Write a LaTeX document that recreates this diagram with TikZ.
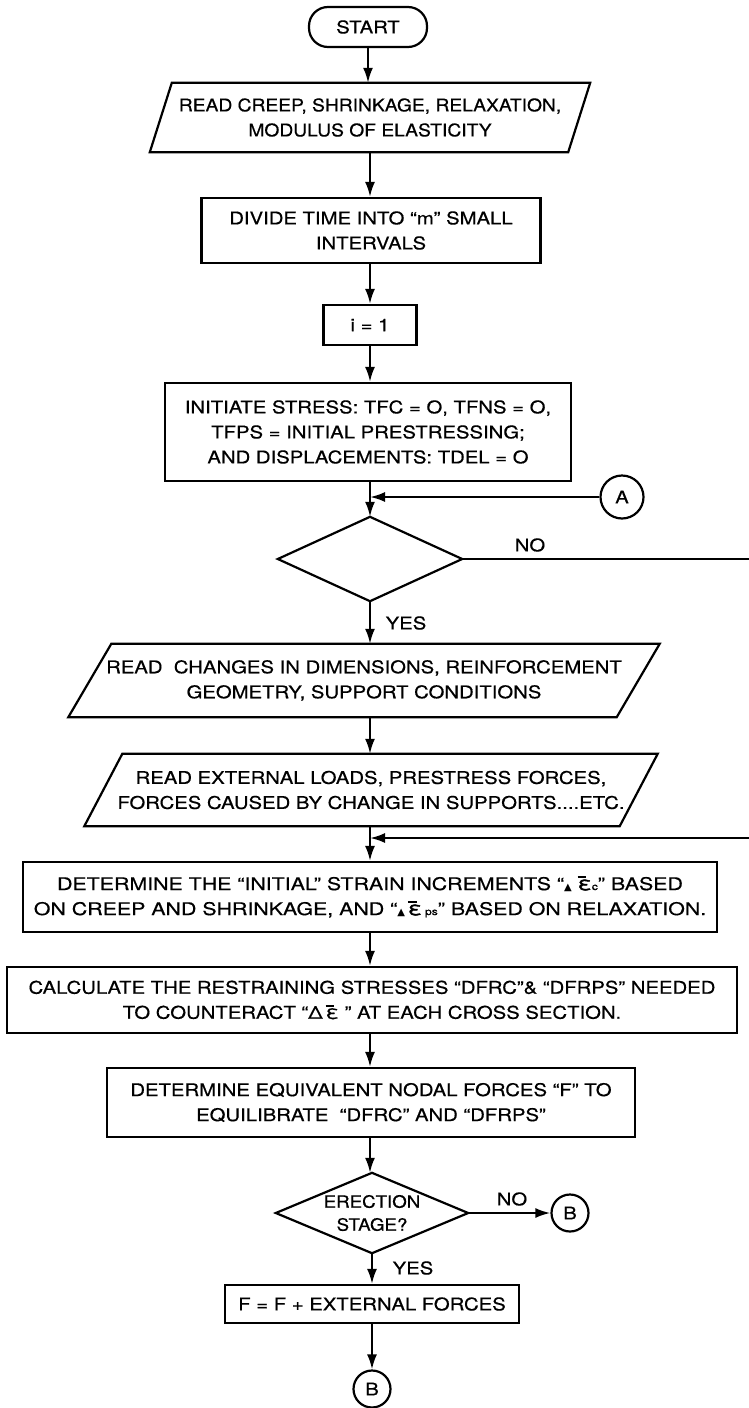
\documentclass[tikz,border=0pt]{standalone}
\usepackage{fontspec}
\setmainfont{TeX Gyre Heros}[FakeStretch=1.16,FakeBold=0.5]
\newfontfamily\narrowfont{TeX Gyre Heros}[FakeStretch=1.1,FakeBold=0.5]
\newfontfamily\widefont{TeX Gyre Heros}[FakeStretch=1.22,FakeBold=0.5]
\newfontfamily\symfont{DejaVu Sans}
\usetikzlibrary{arrows.meta,calc}
\newcommand{\epsbar}{\leavevmode\vbox{\hrule height 1.3pt width 0.48em\kern1.4pt\hbox{\fontsize{19}{19}\selectfont ε}}}
\newcommand{\epsbarbold}{\leavevmode\vbox{\hrule height 1.8pt width 0.5em\kern1.3pt\hbox{\addfontfeatures{FakeBold=2}\fontsize{19}{19}\selectfont ε}}}
\newcommand{\smalltri}{{\symfont\fontsize{10}{10}\selectfont ▲}}
\newcommand{\subtxt}[1]{{\fontsize{10}{10}\selectfont #1}}
\begin{document}
\begin{tikzpicture}[x=1pt,y=-1pt,
  every node/.style={font=\fontsize{17.5}{25}\selectfont, align=center, inner sep=0pt},
  proc/.style={rectangle, draw, line width=2.2pt},
  holder/.style={rectangle, draw=none},
  term/.style={rectangle, draw, line width=2.2pt, rounded corners=19pt},
  conncirc/.style={circle, draw, line width=2.2pt},
  edge/.style={draw, line width=2.2pt},
  flow/.style={edge, -{Latex[length=15pt,width=10pt]}},
  outline/.style={draw, line width=2.2pt, line join=miter}
]
\useasboundingbox (0,0) rectangle (749,1408);

% nodes
\node[term, minimum width=118pt, minimum height=40pt] (start) at (368,27) {START};
\node[holder, minimum width=418pt, minimum height=69pt,
      font=\narrowfont\fontsize{17.5}{25}\selectfont] (read1) at (370,117.5)
  {READ CREEP, SHRINKAGE, RELAXATION,\\MODULUS OF ELASTICITY};
\node[proc, minimum width=339pt, minimum height=65pt] (divide) at (371,230.5)
  {DIVIDE TIME INTO “m” SMALL\\INTERVALS};
\node[proc, minimum width=93pt, minimum height=40pt] (ione) at (370,325) {i = 1};
\node[proc, minimum width=406pt, minimum height=98pt] (init) at (368,432)
  {INITIATE STRESS: TFC = O, TFNS = O,\\TFPS = INITIAL PRESTRESSING;\\AND DISPLACEMENTS: TDEL = O};
\node[conncirc, minimum size=43pt] (A) at (622,497) {A};
\node[holder, minimum width=184pt, minimum height=84pt] (dec) at (370,559) {};
\node (no1) at (530,545) {NO};
\node (yes1) at (406,623) {YES};
\node[holder, minimum width=548pt, minimum height=73pt] (readchg) at (364,680.5)
  {READ\ \ CHANGES IN DIMENSIONS, REINFORCEMENT\\GEOMETRY, SUPPORT CONDITIONS};
\node[holder, minimum width=535pt, minimum height=72pt] (readext) at (371,790)
  {READ EXTERNAL LOADS, PRESTRESS FORCES,\\FORCES CAUSED BY CHANGE IN SUPPORTS....ETC.};
\node[proc, minimum width=694pt, minimum height=70pt,
      font=\widefont\fontsize{17.5}{25}\selectfont] (strain) at (370,897)
  {DETERMINE THE “INITIAL” STRAIN INCREMENTS “\smalltri\ \epsbarbold\subtxt{c}” BASED\\
   ON CREEP AND SHRINKAGE, AND “\smalltri\,\epsbarbold\,\subtxt{ps}” BASED ON RELAXATION.};
\node[proc, minimum width=730pt, minimum height=66pt] (restrain) at (372,1000)
  {CALCULATE THE RESTRAINING STRESSES “DFRC”\& “DFRPS” NEEDED\\
   TO COUNTERACT “Δ\,\epsbar\ ” AT EACH CROSS SECTION.};
\node[proc, minimum width=528pt, minimum height=69pt] (equiv) at (371,1102.5)
  {DETERMINE EQUIVALENT NODAL FORCES “F” TO\\EQUILIBRATE\ \ “DFRC” AND “DFRPS”};
\node[holder, minimum width=192pt, minimum height=80pt,
      font=\narrowfont\fontsize{17}{23}\selectfont] (erect) at (372,1213)
  {ERECTION\\STAGE?};
\node (no2) at (512,1199) {NO};
\node[conncirc, minimum size=37pt] (B1) at (570,1213) {B};
\node (yes2) at (413,1268) {YES};
\node[proc, minimum width=294pt, minimum height=38pt] (fbox) at (372,1304)
  {F = F + EXTERNAL FORCES};
\node[conncirc, minimum size=37pt] (B2) at (372,1389) {B};

% outlines of parallelograms and diamonds
\draw[outline] ($(read1.north west)+(11,0)$) -- ($(read1.north east)+(11,0)$)
  -- ($(read1.south east)+(-11,0)$) -- ($(read1.south west)+(-11,0)$) -- cycle;
\draw[outline] ($(readchg.north west)+(21.5,0)$) -- ($(readchg.north east)+(21.5,0)$)
  -- ($(readchg.south east)+(-21.5,0)$) -- ($(readchg.south west)+(-21.5,0)$) -- cycle;
\draw[outline] ($(readext.north west)+(19,0)$) -- ($(readext.north east)+(19,0)$)
  -- ($(readext.south east)+(-19,0)$) -- ($(readext.south west)+(-19,0)$) -- cycle;
\draw[outline] (dec.north) -- (dec.east) -- (dec.south) -- (dec.west) -- cycle;
\draw[outline] (erect.north) -- (erect.east) -- (erect.south) -- (erect.west) -- cycle;

% free ends at the right margin
\coordinate (noend) at (749,559);
\coordinate (retstart) at (749,838);

% connectors
\draw[flow] (start.south) -- (start.south |- read1.north);
\draw[flow] (read1.south) -- (read1.south |- divide.north);
\draw[flow] (read1.south |- divide.south) -- (read1.south |- ione.north);
\draw[flow] (ione.south) -- (ione.south |- init.north);
\draw[flow] (ione.south |- init.south) -- (dec.north);
\draw[flow] (A.west) -- (A.west -| dec.north);
\draw[edge] (dec.east) -- (noend);
\draw[flow] (dec.south) -- (dec.south |- readchg.north);
\draw[flow] (dec.south |- readchg.south) -- (dec.south |- readext.north);
\draw[flow] (dec.south |- readext.south) -- (dec.south |- strain.north);
\draw[flow] (retstart) -- (retstart -| dec.south);
\draw[flow] (strain.south) -- (strain.south |- restrain.north);
\draw[flow] (strain.south |- restrain.south) -- (strain.south |- equiv.north);
\draw[flow] (strain.south |- equiv.south) -- (strain.south |- erect.north);
\draw[flow] (erect.east) -- (B1.west);
\draw[flow] (erect.south) -- (fbox.north);
\draw[flow] (fbox.south) -- (B2.north);
\end{tikzpicture}
\end{document}
